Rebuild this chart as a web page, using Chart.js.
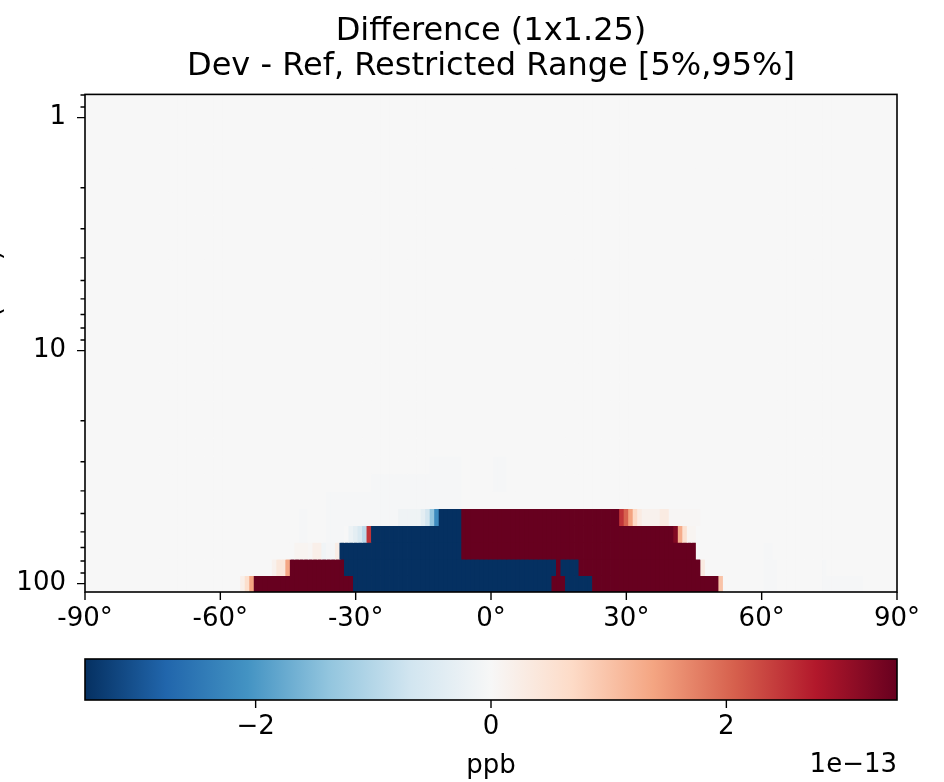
<!DOCTYPE html>
<html>
<head>
<meta charset="utf-8">
<script src="https://cdn.jsdelivr.net/npm/chart.js@4.4.1/dist/chart.umd.min.js"></script>
<style>
  html, body { margin: 0; padding: 0; background: #fff; overflow: hidden; width: 944px; height: 782px; }
  #main { position: absolute; left: -30px; top: 0; }
  #cbar { position: absolute; left: -30px; top: 640px; }
</style>
</head>
<body>
<canvas id="main" width="1042" height="640"></canvas>
<canvas id="cbar" width="1042" height="142"></canvas>
<script>
// ---------------- data ----------------
// Pressure level edges (hPa), top to bottom
const pressureEdges = [0.7951, 1.0194, 1.3005, 1.6508, 2.0850, 2.6202, 3.2764, 4.0766, 5.0468,
  6.2168, 7.6198, 9.2929, 11.2769, 13.6434, 16.4571, 19.7916, 23.7304, 28.3678, 33.8100,
  40.1754, 47.6439, 56.3879, 66.6034, 78.5123, 92.3657, 108.663];
// Latitude cell centres (1 degree grid)
const latitudes = Array.from({length: 181}, (_, i) => i - 90);

// Values in units of 1e-13 ppb, as runs [firstLat, lastLat, value]; unlisted cells ~ 0
const level_92_109 = [[-55,-55,0.2],[-54,-54,0.6],[-53,-53,1.38],[-52,-31,4.5],[-30,13,-4.5],[14,16,4.5],[17,22,-4.5],[23,50,4.5],[51,51,1.0],[61,63,-0.04],[74,82,-0.03]];
const level_79_92  = [[-48,-48,0.15],[-47,-46,0.4],[-45,-45,1.35],[-44,-33,4.5],[-32,14,-4.5],[15,15,4.5],[16,19,-4.5],[20,46,4.5],[47,47,0.3],[61,63,-0.04],[74,74,-0.03]];
const level_67_79  = [[-43,-41,0.08],[-40,-40,0.04],[-39,-38,0.2],[-37,-37,-0.12],[-36,-35,-0.06],[-34,-34,0.25],[-33,-7,-4.5],[-6,45,4.5],[61,62,-0.04]];
const level_56_67  = [[-42,-41,-0.04],[-36,-33,-0.04],[-31,-31,-0.2],[-30,-30,-0.35],[-29,-29,-0.55],[-28,-28,-0.9],[-27,-27,2.5],[-26,-7,-4.5],[-6,40,4.5],[41,41,3.2],[42,42,1.3],[43,43,0.55],[44,45,0.08]];
const level_48_56  = [[-42,-41,-0.04],[-36,-21,-0.03],[-20,-16,-0.15],[-15,-15,-0.35],[-14,-14,-0.65],[-13,-13,-1.35],[-12,-12,-2.2],[-11,-7,-4.5],[-6,28,4.5],[29,29,2.5],[30,30,2.05],[31,31,1.4],[32,32,0.7],[33,33,0.3],[34,37,0.15],[38,39,0.3],[40,46,0.05]];
const level_40_48  = [[-36,-27,-0.03],[-26,-14,-0.04],[-13,-7,-0.04]];
const level_34_40  = [[-26,-14,-0.04],[-13,-7,-0.04],[1,3,-0.03]];
const level_28_34  = [[-13,-7,-0.04],[1,3,-0.03]];
// levels listed top to bottom (one per pressure interval)
const levelRuns = [[],[],[],[],[],[],[],[],[],[],[],[],[],[],[],[],[],
  level_28_34, level_34_40, level_40_48, level_48_56, level_56_67, level_67_79, level_79_92, level_92_109];

const pressureTicks = [0.8, 0.9, 1, 2, 3, 4, 5, 6, 7, 8, 9, 10, 20, 30, 40, 50, 60, 70, 80, 90, 100];
const pressureMajor = [1, 10, 100];
const latTicks = [-90, -60, -30, 0, 30, 60, 90];
const cbarTicks = [-2, 0, 2];
const VMIN = -3.45, VMAX = 3.45;

// ---------------- colormap (RdBu_r) ----------------
const RDBU_R = ['#053061','#2166ac','#4393c3','#92c5de','#d1e5f0','#f7f7f7','#fddbc7','#f4a582','#d6604d','#b2182b','#67001f'];
const hexRGB = h => [parseInt(h.slice(1,3),16), parseInt(h.slice(3,5),16), parseInt(h.slice(5,7),16)];
function cmap(v) {
  let t = (v - VMIN) / (VMAX - VMIN);
  t = Math.max(0, Math.min(1, t));
  const s = t * (RDBU_R.length - 1);
  const i = Math.min(RDBU_R.length - 2, Math.floor(s));
  const f = s - i;
  const a = hexRGB(RDBU_R[i]), b = hexRGB(RDBU_R[i + 1]);
  return 'rgb(' + a.map((c, k) => Math.round(c + (b[k] - c) * f)).join(',') + ')';
}

// grid of values from runs
const grid = levelRuns.map(runs => latitudes.map(lat => {
  let v = 0;
  runs.forEach(r => { if (lat >= r[0] && lat <= r[1]) v = r[2]; });
  return v;
}));

const FONT = 'DejaVu Sans';
Chart.defaults.font.family = FONT;
Chart.defaults.color = '#000';

const datasets = grid.map((row, r) => ({
  data: latitudes.map(lat => ({x: lat, y: [pressureEdges[r], pressureEdges[r + 1]]})),
  backgroundColor: row.map(v => cmap(v)),
  borderWidth: 0,
  barPercentage: 1,
  categoryPercentage: 1,
  grouped: false,
  inflateAmount: 0.4
}));

const framePlugin = {
  id: 'frame',
  afterDraw(chart) {
    const {ctx, chartArea: {left, right, top, bottom}, scales: {x, y}} = chart;
    ctx.save();
    ctx.strokeStyle = '#000';
    ctx.lineWidth = 1.4;
    ctx.beginPath();
    y.ticks.forEach(t => {
      const py = y.getPixelForValue(t.value);
      const len = t.major ? 8 : 4.5;
      ctx.moveTo(left - len, py); ctx.lineTo(left, py);
    });
    x.ticks.forEach(t => {
      const px = x.getPixelForValue(t.value);
      ctx.moveTo(px, bottom); ctx.lineTo(px, bottom + 8);
    });
    ctx.stroke();
    ctx.lineWidth = 1.6;
    ctx.strokeRect(left, top, right - left, bottom - top);
    ctx.restore();
  }
};

new Chart(document.getElementById('main'), {
  type: 'bar',
  data: { datasets },
  options: {
    responsive: false,
    animation: false,
    events: [],
    devicePixelRatio: 1,
    layout: { padding: 0 },
    plugins: {
      legend: { display: false },
      tooltip: { enabled: false },
      title: {
        display: true,
        text: ['Difference (1x1.25)', 'Dev - Ref, Restricted Range [5%,95%]'],
        font: { family: FONT, size: 32, weight: 'normal', lineHeight: 1.1 },
        color: '#000',
        padding: { top: 14, bottom: 10 }
      }
    },
    scales: {
      x: {
        type: 'linear', min: -90, max: 90, offset: false,
        grid: { display: false, drawTicks: false },
        border: { display: false },
        afterBuildTicks: s => { s.ticks = latTicks.map(v => ({value: v})); },
        afterFit: s => { s.height = 48; },
        ticks: { font: { size: 26 }, padding: 12, maxRotation: 0, callback: v => v + '°' }
      },
      y: {
        type: 'logarithmic', min: pressureEdges[0], max: pressureEdges[pressureEdges.length - 1], reverse: true,
        grid: { display: false, drawTicks: false },
        border: { display: false },
        afterBuildTicks: s => { s.ticks = pressureTicks.map(v => ({value: v, major: pressureMajor.includes(v)})); },
        afterFit: s => { s.width = 115; },
        ticks: { font: { size: 26 }, padding: 19, autoSkip: false,
          callback: (v) => pressureMajor.includes(v) ? String(v) : '' },
        title: { display: true, text: 'Pressure (hPa)', font: { size: 26 }, padding: { top: 8, bottom: 0 } }
      },
      yRight: {
        type: 'linear', position: 'right', display: true,
        grid: { display: false, drawTicks: false },
        border: { display: false },
        ticks: { display: false },
        afterFit: s => { s.width = 115; }
      }
    }
  },
  plugins: [framePlugin]
});

// ---------------- colorbar ----------------
const cbarPlugin = {
  id: 'cbarFrame',
  afterDraw(chart) {
    const {ctx, chartArea: {left, right, top, bottom}, scales: {x}} = chart;
    ctx.save();
    ctx.strokeStyle = '#000';
    ctx.lineWidth = 1.4;
    ctx.beginPath();
    x.ticks.forEach(t => {
      const px = x.getPixelForValue(t.value);
      ctx.moveTo(px, bottom); ctx.lineTo(px, bottom + 8);
    });
    ctx.stroke();
    ctx.lineWidth = 1.6;
    ctx.strokeRect(left, top, right - left, bottom - top);
    ctx.fillStyle = '#000';
    ctx.font = '26px "' + FONT + '"';
    ctx.textAlign = 'right';
    ctx.textBaseline = 'middle';
    ctx.fillText('1e\u221213', right, 125);
    ctx.restore();
  }
};

new Chart(document.getElementById('cbar'), {
  type: 'bar',
  data: {
    labels: ['ppb'],
    datasets: [{
      data: [[VMIN, VMAX]],
      backgroundColor: (c) => {
        const ca = c.chart.chartArea;
        if (!ca) return '#f7f7f7';
        const g = c.chart.ctx.createLinearGradient(ca.left, 0, ca.right, 0);
        RDBU_R.forEach((col, i) => g.addColorStop(i / (RDBU_R.length - 1), col));
        return g;
      },
      borderWidth: 0,
      barPercentage: 1,
      categoryPercentage: 1
    }]
  },
  options: {
    indexAxis: 'y',
    responsive: false,
    animation: false,
    events: [],
    devicePixelRatio: 1,
    layout: { padding: { left: 115, right: 115, top: 19, bottom: 0 } },
    plugins: { legend: { display: false }, tooltip: { enabled: false }, title: { display: false } },
    scales: {
      y: { display: false, offset: true },
      x: {
        type: 'linear', min: VMIN, max: VMAX,
        grid: { display: false, drawTicks: false },
        border: { display: false },
        afterBuildTicks: s => { s.ticks = cbarTicks.map(v => ({value: v})); },
        afterFit: s => { s.height = 82; },
        ticks: { font: { size: 26 }, padding: 12, maxRotation: 0,
          callback: v => v < 0 ? '\u2212' + Math.abs(v) : String(v) },
        title: { display: true, text: 'ppb', font: { size: 26 }, padding: { top: 0, bottom: 0 } }
      }
    }
  },
  plugins: [cbarPlugin]
});
</script>
</body>
</html>
